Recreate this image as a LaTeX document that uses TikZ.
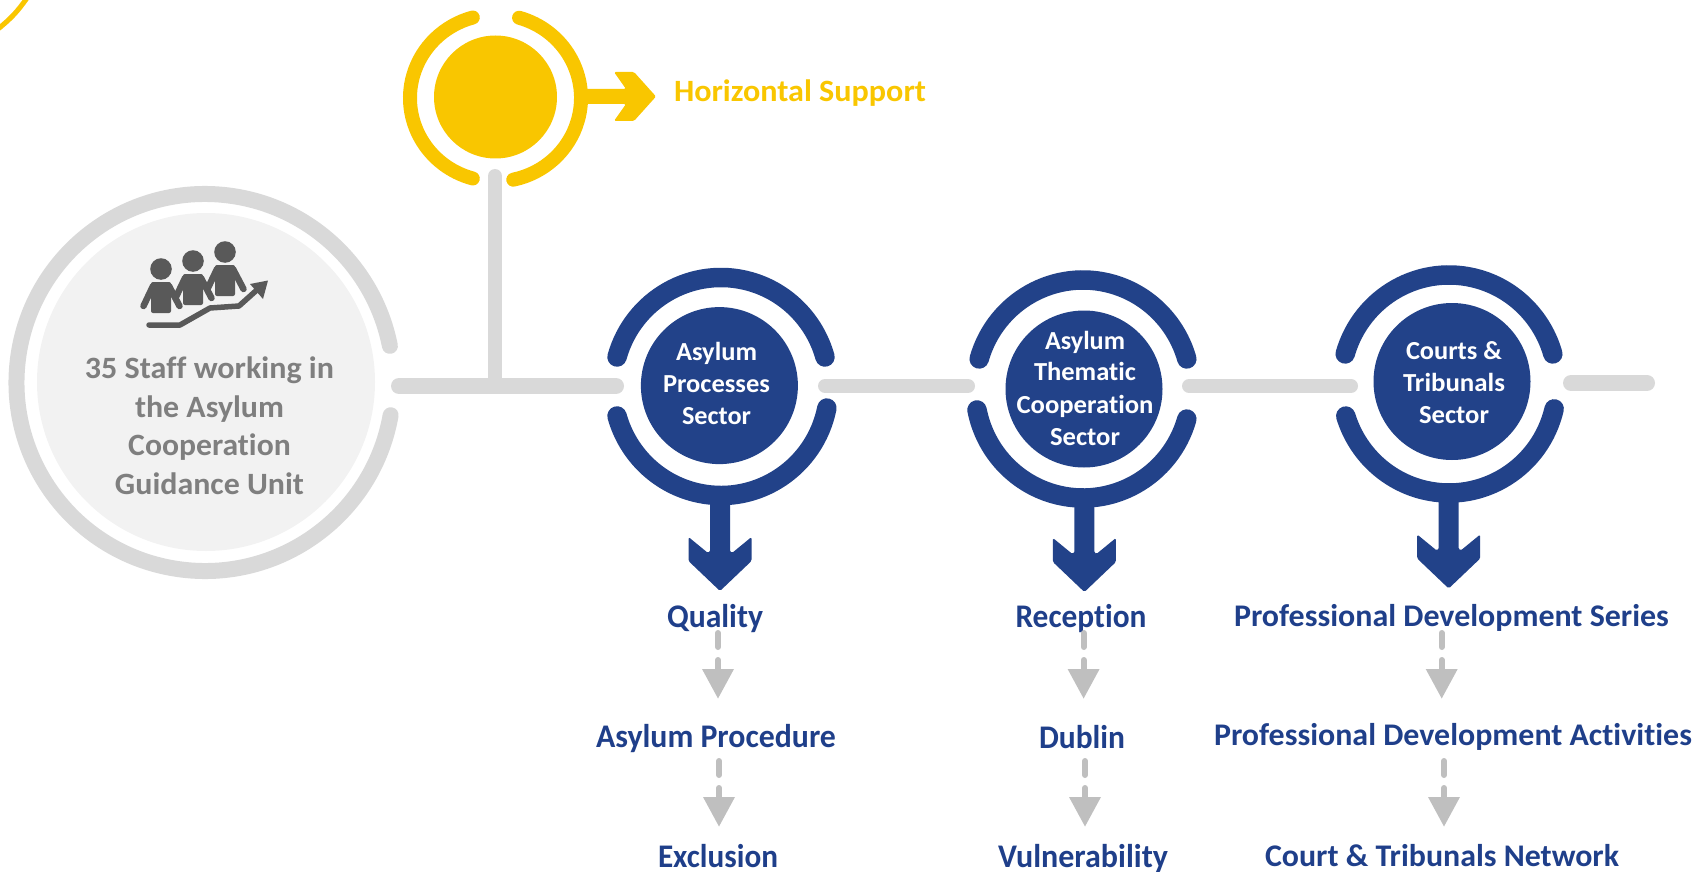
\documentclass[tikz,border=0pt]{standalone}
\usepackage{graphicx}
\usepackage{fontspec}
\setmainfont{Carlito}[Ligatures=NoCommon]
\definecolor{eblue}{HTML}{224289}
\definecolor{ltext}{HTML}{1F3F8A}
\definecolor{barg}{HTML}{D9D9D9}
\definecolor{softg}{HTML}{F2F2F2}
\definecolor{arrowg}{HTML}{BFBFBF}
\definecolor{icong}{HTML}{595959}
\definecolor{textg}{HTML}{7F7F7F}
\definecolor{eyel}{HTML}{F9C600}
\newcommand{\fitw}[2]{\resizebox{#1pt}{\height}{#2}}
\tikzset{
  base text/.style={inner sep=0pt,outer sep=0pt,anchor=base,font=\bfseries},
  lab/.style={base text,text=ltext,font=\bfseries\fontsize{33}{33}\selectfont},
  labwide/.style={base text,text=ltext,font=\bfseries\fontsize{31.5}{31.5}\selectfont},
  wlab/.style={base text,text=white,font=\bfseries\fontsize{26}{26}\selectfont},
  glab/.style={base text,text=textg,font=\bfseries\fontsize{31}{31}\selectfont},
  ylab/.style={base text,text=eyel,font=\bfseries\fontsize{31}{31}\selectfont},
  disc/.style={circle,inner sep=0pt,outer sep=0pt,fill=#1,draw=none},
  ringline/.style={line width=19.5pt,line cap=round,draw=eblue},
  yring/.style={line width=14pt,line cap=round,draw=eyel},
  gring/.style={line width=16pt,line cap=round,draw=barg},
  bar/.style={line width=#1,line cap=round,draw=barg},
  bigarrow/.style={fill=#1,draw=none,rounded corners=1.5pt},
  dashbit/.style={line width=6pt,line cap=round,draw=arrowg},
  dashhead/.style={fill=arrowg,draw=none},
  icon/.style={fill=icong,draw=none},
  iconline/.style={line width=5.5pt,line cap=round,line join=round,draw=icong},
}
% #1 x, #2 y top of dash, #3 name
\newcommand{\dasharrow}[3]{%
  \coordinate (#3a) at (#1,#2);
  \coordinate (#3b) at (#1,#2+14);
  \coordinate (#3c) at (#1,#2+27);
  \coordinate (#3d) at (#1,#2+36);
  \coordinate (#3t) at (#1,#2+65.5);
  \draw[dashbit] (#3a) -- (#3b);
  \draw[dashbit] (#3c) -- (#3d);
  \fill[dashhead] ([xshift=-16pt]#3d) -- ([xshift=16pt]#3d) -- (#3t) -- cycle;
}
\newcommand{\downarrowshape}[3]{%
  \coordinate (#2tip) at (#1,#3);
  \fill[bigarrow=eblue] (#1-10,#3-92) -- (#1-10,#3-39) -- (#1-12,#3-38) -- (#1-31.5,#3-54) -- (#1-31.5,#3-30)
    -- (#2tip) -- (#1+31.5,#3-30) -- (#1+31.5,#3-54) -- (#1+12,#3-38) -- (#1+10,#3-39) -- (#1+10,#3-92) -- cycle;
}
\newcommand{\person}[2]{%
  \begin{scope}[shift={(#1,#2)}]
    \fill[icon] (0,0) ellipse [x radius=10.8pt,y radius=10.8pt];
    \fill[icon,rounded corners=2pt] (-10,13) -- (10,13) -- (10,44) -- (-10,44) -- cycle;
    \draw[line width=6.5pt,line cap=round,draw=icong] (-8,17) -- (-17.5,37);
    \draw[line width=6.5pt,line cap=round,draw=icong] (8,17) -- (18.5,37);
  \end{scope}
}
\begin{document}
\begin{tikzpicture}[x=1pt,y=1pt,yscale=-1]
\path[use as bounding box,clip] (0,0) rectangle (1698,872);

% yellow fragment in the corner
\coordinate (frag1) at (-2,29);
\coordinate (frag2) at (27,-2);
\draw[line width=5pt,draw=eyel] (frag1) to[bend left=8] (frag2);

% left gray unit
\node[disc=softg,minimum size=338pt] (unit) at (206,382) {};
\draw[gring] ({205+188.5*cos(10)},{382.5+188.5*sin(10)}) arc[start angle=10,end angle=348.8,radius=188.5];

% bars
\coordinate (b0a) at (399,386); \coordinate (b0b) at (616,386);
\coordinate (v0a) at (495,176); \coordinate (v0b) at (495,386);
\coordinate (b1a) at (825,386); \coordinate (b1b) at (968,386);
\coordinate (b2a) at (1189,386); \coordinate (b2b) at (1351,386);
\coordinate (b3a) at (1571,383); \coordinate (b3b) at (1647,383);
\draw[bar=14pt] (v0a) -- (v0b);
\draw[bar=16pt] (b0a) -- (b0b);
\draw[bar=14pt] (b1a) -- (b1b);
\draw[bar=14pt] (b2a) -- (b2b);
\draw[bar=16pt] (b3a) -- (b3b);

% yellow
\node[disc=eyel,minimum size=123pt] (hs) at (495.5,97) {};
\draw[yring] ({495.5+85.5*cos(105.4)},{98+83.5*sin(105.4)}) arc[start angle=105.4,end angle=254.6,x radius=85.5,y radius=83.5];
\draw[yring] ({495.5+85.5*cos(-74)},{98+83.5*sin(-74)}) arc[start angle=-74,end angle=78,x radius=85.5,y radius=83.5];
\fill[bigarrow=eyel] (580,89) -- (626,89) -- (614,72) -- (634,72) -- (656,96.5) -- (634,121) -- (614,121) -- (626,104) -- (580,104) -- cycle;
\node[ylab] (hslab) at (800,102) {\fitw{252}{Horizontal Support}};

% blue 1
\node[disc=eblue,minimum size=157pt] (s1) at (719.4,385.6) {};
\draw[ringline] ({721+108*cos(195.7)},{386.5+109*sin(195.7)}) arc[start angle=195.7,end angle=344.3,x radius=108,y radius=109];
\draw[ringline] ({721+108*cos(11.4)},{386.5+109*sin(11.4)}) arc[start angle=11.4,end angle=164.3,x radius=108,y radius=109];
\downarrowshape{720}{s1}{591}
\node[wlab] (t11) at (716.5,360.7) {\fitw{81}{Asylum}};
\node[wlab] (t12) at (716.5,392.7) {\fitw{107}{Processes}};
\node[wlab] (t13) at (716.5,424.7) {\fitw{69}{Sector}};

% blue 2
\node[disc=eblue,minimum size=157pt] (s2) at (1084,389) {};
\draw[ringline] ({1083+108*cos(196)},{389+109*sin(196)}) arc[start angle=196,end angle=344,x radius=108,y radius=109];
\draw[ringline] ({1083+108*cos(16)},{389+109*sin(16)}) arc[start angle=16,end angle=168.9,x radius=108,y radius=109];
\downarrowshape{1084.4}{s2}{592}
\node[wlab] (t21) at (1085,349) {\fitw{80}{Asylum}};
\node[wlab] (t22) at (1085,380.7) {\fitw{102}{Thematic}};
\node[wlab] (t23) at (1085,413) {\fitw{137}{Cooperation}};
\node[wlab] (t24) at (1085,445) {\fitw{70}{Sector}};

% blue 3
\node[disc=eblue,minimum size=157pt] (s3) at (1452,381.5) {};
\draw[ringline] ({1449+108*cos(196)},{384+109*sin(196)}) arc[start angle=196,end angle=344,x radius=108,y radius=109];
\draw[ringline] ({1449+108*cos(13.2)},{384+109*sin(13.2)}) arc[start angle=13.2,end angle=162.9,x radius=108,y radius=109];
\downarrowshape{1448.7}{s3}{588.5}
\node[wlab] (t31) at (1454,359) {\fitw{96}{Courts \&}};
\node[wlab] (t32) at (1454,391) {\fitw{102}{Tribunals}};
\node[wlab] (t33) at (1454,423) {\fitw{70}{Sector}};

% gray unit text
\node[glab] (u1) at (209.5,378) {\fitw{249}{35 Staff working in}};
\node[glab] (u2) at (209.5,417) {\fitw{149}{the Asylum}};
\node[glab] (u3) at (209.5,455) {\fitw{162.5}{Cooperation}};
\node[glab] (u4) at (209.5,494) {\fitw{189}{Guidance Unit}};

% icon
\person{225}{252}
\person{193}{261}
\person{161}{269}
\coordinate (g1) at (149,325); \coordinate (g2) at (180,325); \coordinate (g3) at (210,308);
\coordinate (g4) at (239,306); \coordinate (g5) at (258,289);
\draw[iconline] (g1) -- (g2) -- (g3) -- (g4) -- (g5);
\fill[icon] (250,284) -- (268,280.5) -- (263,299) -- cycle;

% labels
\node[lab] (l11) at (715,627) {\fitw{96}{Quality}};
\node[lab] (l12) at (716,747) {\fitw{240}{Asylum Procedure}};
\node[lab] (l13) at (718,867) {\fitw{120}{Exclusion}};
\node[lab] (l21) at (1081,627) {\fitw{131}{Reception}};
\node[lab] (l22) at (1082,748) {\fitw{86}{Dublin}};
\node[lab] (l23) at (1083,867) {\fitw{170}{Vulnerability}};
\node[labwide] (l31) at (1451.5,626) {\fitw{435}{Professional Development Series}};
\node[labwide] (l32) at (1453,745) {\fitw{478}{Professional Development Activities}};
\node[labwide] (l33) at (1442,866) {\fitw{354}{Court \& Tribunals Network}};

% dashed arrows
\dasharrow{718}{633}{d11}
\dasharrow{719}{761}{d12}
\dasharrow{1083.6}{633}{d21}
\dasharrow{1085}{761}{d22}
\dasharrow{1441.7}{633}{d31}
\dasharrow{1444}{761}{d32}
\end{tikzpicture}
\end{document}
